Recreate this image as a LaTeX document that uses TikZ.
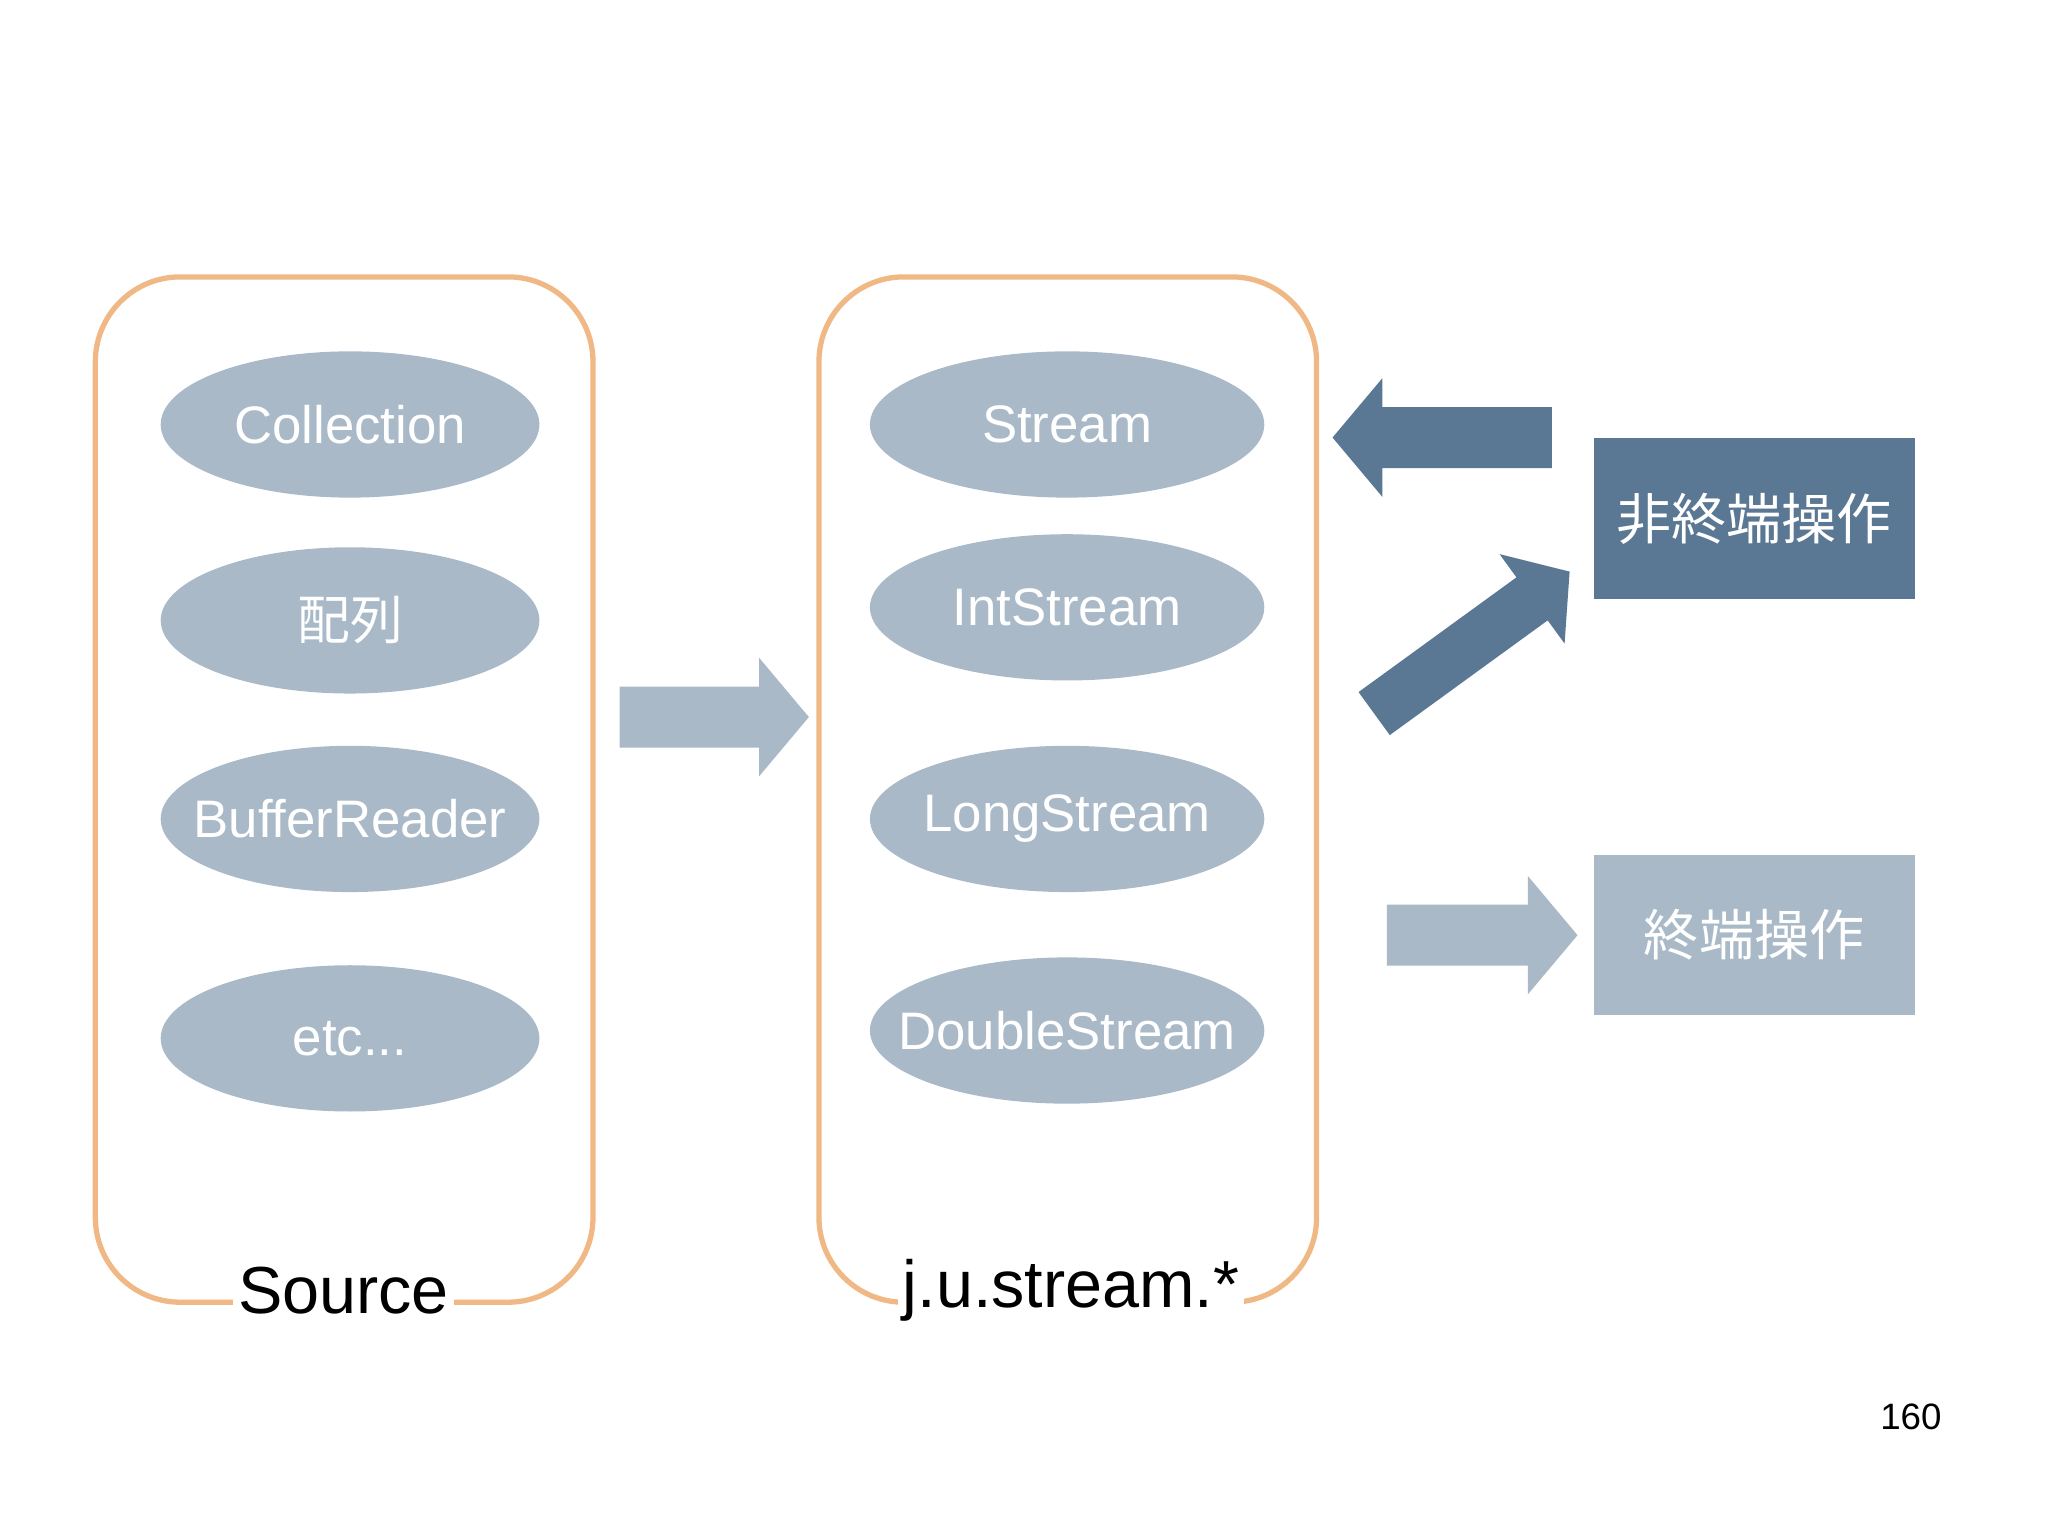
\documentclass[tikz,border=0pt]{standalone}
\usepackage{fontspec}
\setmainfont{Liberation Sans}
\newfontfamily\cjk{Noto Sans CJK JP}
\usetikzlibrary{shapes.geometric,shapes.arrows}
\definecolor{lightblue}{HTML}{A9B9C8}
\definecolor{darkblue}{HTML}{5A7893}
\definecolor{boxorange}{HTML}{F0B884}
\begin{document}
\begin{tikzpicture}[x=0.02cm,y=-0.02cm,inner sep=0pt,
  group/.style={draw=boxorange,line width=2.3pt,rounded corners=1.3cm},
  item/.style={ellipse,fill=lightblue,minimum height=2.24cm,
    label={[text=white,font=\fontsize{23}{23}\selectfont]center:#1}},
  big/.style={fill=#1,single arrow,inner xsep=0pt,inner ysep=0.46cm,
    single arrow head extend=0.44cm,single arrow tip angle=100},
  op/.style={fill=#1,text=white,minimum width=4.92cm,minimum height=2.46cm,font=\cjk\fontsize{24}{24}\selectfont},
  grouplabel/.style={fill=white,inner sep=2pt,font=\fontsize{29}{29}\selectfont}]
\useasboundingbox (0,0) rectangle (1568,1175);
% groups
\draw[group] (73,212) rectangle (454,997);
\draw[group] (627,212) rectangle (1008,997);
\node[grouplabel] (src) at (263,988) {Source};
\node[grouplabel] (jus) at (820,988) {j.u.stream.*};
% sources
\node[item=Collection,minimum width=5.8cm] (coll) at (268,325) {};
\node[item={\cjk 配列},minimum width=5.8cm] (arr) at (268,475) {};
\node[item=BufferReader,minimum width=5.8cm] (buf) at (268,627) {};
\node[item=etc...,minimum width=5.8cm] (etc) at (268,795) {};
% streams
\node[item=Stream,minimum width=6.04cm] (st) at (817,325) {};
\node[item=IntStream,minimum width=6.04cm] (ist) at (817,465) {};
\node[item=LongStream,minimum width=6.04cm] (lst) at (817,627) {};
\node[item=DoubleStream,minimum width=6.04cm] (dst) at (817,789) {};
% operations
\node[op=darkblue] (mid) at (1343,397) {非終端操作};
\node[op=lightblue] (term) at (1343,716) {終端操作};
% arrows
\node[big=lightblue,minimum height=2.9cm] (a1) at (537,549) {};
\node[big=darkblue,minimum height=3.36cm,shape border rotate=180] (a2) at (1114,335) {};
\node[big=darkblue,minimum height=3.7cm,inner ysep=0.4cm,rotate=36] (a3) at (1120,497) {};
\node[big=lightblue,minimum height=2.92cm] (a4) at (1125,716) {};
\node[font=\fontsize{16}{16}\selectfont] (pg) at (1463,1085) {160};
\end{tikzpicture}
\end{document}
